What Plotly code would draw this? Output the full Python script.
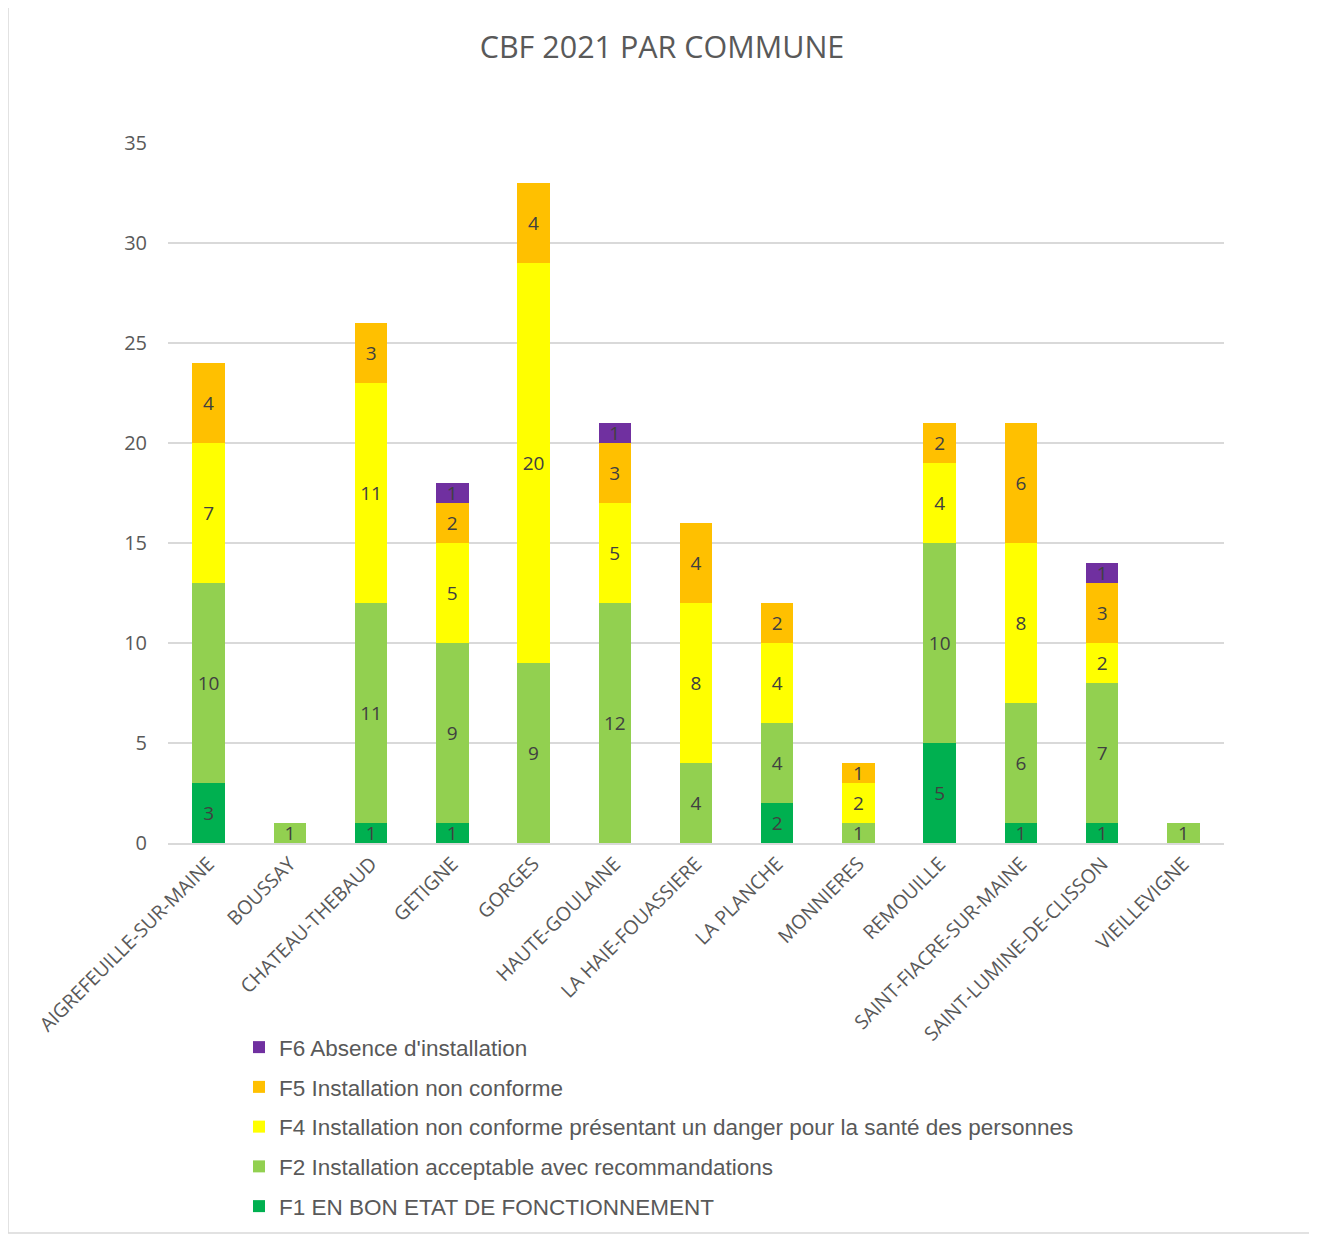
import plotly.graph_objects as go

communes = ["AIGREFEUILLE-SUR-MAINE", "BOUSSAY", "CHATEAU-THEBAUD", "GETIGNE", "GORGES",
            "HAUTE-GOULAINE", "LA HAIE-FOUASSIERE", "LA PLANCHE", "MONNIERES", "REMOUILLE",
            "SAINT-FIACRE-SUR-MAINE", "SAINT-LUMINE-DE-CLISSON", "VIEILLEVIGNE"]

f1 = [3, 0, 1, 1, 0, 0, 0, 2, 0, 5, 1, 1, 0]
f2 = [10, 1, 11, 9, 9, 12, 4, 4, 1, 10, 6, 7, 1]
f4 = [7, 0, 11, 5, 20, 5, 8, 4, 2, 4, 8, 2, 0]
f5 = [4, 0, 3, 2, 4, 3, 4, 2, 1, 2, 6, 3, 0]
f6 = [0, 0, 0, 1, 0, 1, 0, 0, 0, 0, 0, 1, 0]

series = [
    ("F1 EN BON ETAT DE FONCTIONNEMENT", f1, "#00B050"),
    ("F2 Installation acceptable avec recommandations", f2, "#92D050"),
    ("F4 Installation non conforme présentant un danger pour la santé des personnes", f4, "#FFFF00"),
    ("F5 Installation non conforme", f5, "#FFC000"),
    ("F6 Absence d'installation", f6, "#7030A0"),
]

OFF = 8  # page body margin
W, H = 1317 - 2 * OFF + 7, 1234 - OFF
L, T = 168 - OFF, 143 - OFF
R = W - (1224 - OFF)
B = H - (843 - OFF)
pw, ph = W - L - R, H - T - B

def px(x):
    return (x - OFF - L) / pw

def py(y):
    return (H - B - (y - OFF)) / ph

fig = go.Figure()
n = len(series)
for i, (name, vals, color) in enumerate(series):
    fig.add_trace(go.Bar(
        name=name, x=communes, y=vals,
        marker=dict(color=color, line=dict(width=0)),
        text=["" if v == 0 else str(v) for v in vals],
        textposition="inside", insidetextanchor="middle", textangle=0,
        textfont=dict(family="Open Sans, Noto Sans, sans-serif", size=19, color="#404040"),
        legendgroup=f"g{i}", legendrank=n - i,
    ))

fig.update_layout(
    width=W, height=H,
    margin=dict(l=L, r=R, t=T, b=B, autoexpand=False),
    barmode="stack", bargap=0.6,
    plot_bgcolor="white", paper_bgcolor="white",
    uniformtext=dict(minsize=19, mode="show"),
    title=dict(text="CBF 2021 PAR COMMUNE", x=(662 - OFF) / W, xanchor="center", xref="container",
               y=1 - (47 - OFF) / H, yanchor="middle",
               font=dict(family="Open Sans, Noto Sans, sans-serif", size=30.5, color="#595959")),
    showlegend=True,
    legend=dict(
        x=px(239), y=py(1026), xanchor="left", yanchor="top",
        traceorder="grouped", tracegroupgap=7.5,
        font=dict(family="Liberation Sans, Arial, sans-serif", size=22.5, color="#595959"),
        bgcolor="rgba(0,0,0,0)", itemclick=False,
    ),
    xaxis=dict(
        tickangle=-45, tickfont=dict(family="Open Sans, Noto Sans, sans-serif", size=19.5, color="#595959"),
        showgrid=False, showline=True, linecolor="#D9D9D9", linewidth=1.5, ticks="",
    ),
    yaxis=dict(
        range=[0, 35], dtick=5, tickfont=dict(family="Open Sans, Noto Sans, sans-serif", size=20, color="#595959"),
        showgrid=True, gridcolor="#D9D9D9", gridwidth=1.5, zeroline=False, ticks="",
        ticklabelstandoff=20,
    ),
    shapes=[dict(type="rect", xref="paper", yref="paper",
                 x0=px(8), x1=px(1315), y0=py(1233), y1=py(6),
                 line=dict(color="#D9D9D9", width=1.5), fillcolor="rgba(0,0,0,0)", layer="below")],
)

fig.write_html("out.html")
